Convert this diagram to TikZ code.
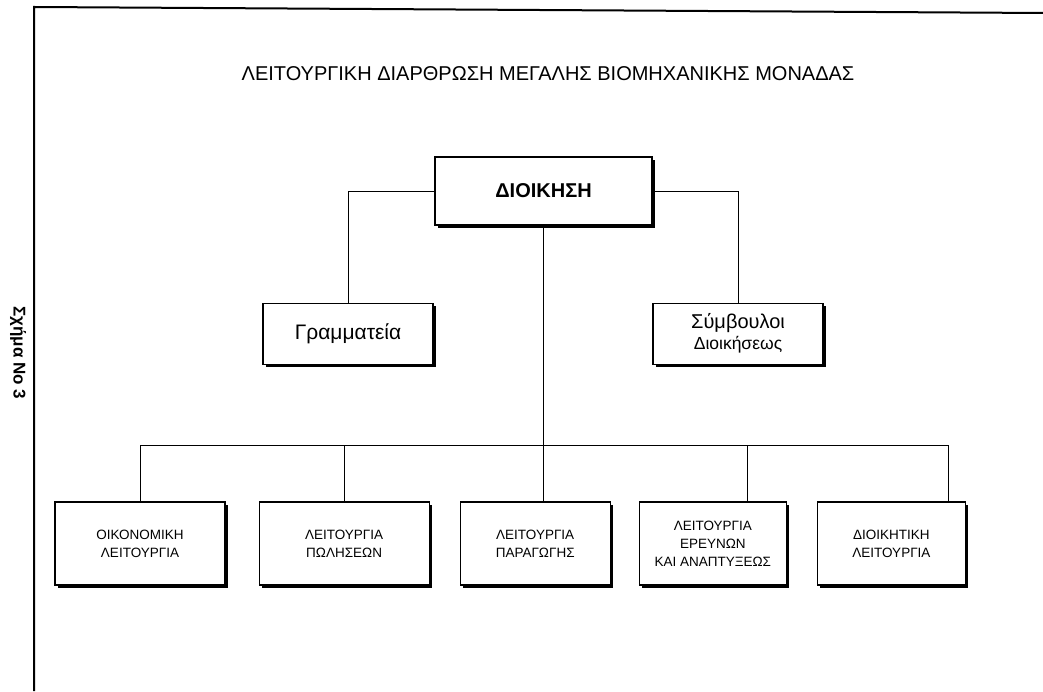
\documentclass[tikz,border=0pt]{standalone}
\usepackage{fontspec}
\setmainfont{Liberation Sans}
\usetikzlibrary{positioning,shadows}

\begin{document}
\begin{tikzpicture}[x=1pt, y=1pt,
  unit/.style={draw, line width=1.1pt, fill=white, align=center, inner sep=0pt,
    drop shadow={shadow xshift=3pt, shadow yshift=-3pt, fill=black, opacity=1}},
  head/.style={unit, minimum width=217pt, minimum height=68pt, font=\fontsize{20}{24}\selectfont\bfseries},
  staff/.style={unit, minimum width=170pt, minimum height=61pt},
  dept/.style={unit, minimum height=83pt, font=\fontsize{13.5}{18}\selectfont},
  link/.style={line width=0.9pt}
]
\useasboundingbox (0,0) rectangle (1043,691);
% frame of the page
\draw[line width=2pt] (34,0) -- (34,684) -- (1043,678);
\node[rotate=-90, font=\fontsize{17}{20}\selectfont\bfseries] (figno) at (18,338) {Σχήμα Νο 3};
\node[font=\fontsize{20}{24}\selectfont] (title) at (548,617) {ΛΕΙΤΟΥΡΓΙΚΗ ΔΙΑΡΘΡΩΣΗ ΜΕΓΑΛΗΣ ΒΙΟΜΗΧΑΝΙΚΗΣ ΜΟΝΑΔΑΣ};
\node[head] (dioikisi) at (543.5,500) {ΔΙΟΙΚΗΣΗ};
\node[staff, below=77pt of dioikisi, xshift=-195.5pt, font=\fontsize{21}{24}\selectfont] (grammateia) {Γραμματεία};
\node[staff, below=77pt of dioikisi, xshift=194.5pt] (symvouloi) {{\fontsize{20}{22}\selectfont Σύμβουλοι}\\[3pt]{\fontsize{17.5}{20}\selectfont Διοικήσεως}};
\node[dept, minimum width=170pt] (oikonomiki) at (140,147.5) {ΟΙΚΟΝΟΜΙΚΗ\\ΛΕΙΤΟΥΡΓΙΑ};
\node[dept, minimum width=170pt, right=33pt of oikonomiki] (poliseon) {ΛΕΙΤΟΥΡΓΙΑ\\ΠΩΛΗΣΕΩΝ};
\node[dept, minimum width=150pt, right=30pt of poliseon] (paragogi) {ΛΕΙΤΟΥΡΓΙΑ\\ΠΑΡΑΓΩΓΗΣ};
\node[dept, minimum width=147pt, right=28pt of paragogi] (erevna) {ΛΕΙΤΟΥΡΓΙΑ\\ΕΡΕΥΝΩΝ\\ΚΑΙ ΑΝΑΠΤΥΞΕΩΣ};
\node[dept, minimum width=148pt, right=30pt of erevna] (dioikitiki) {ΔΙΟΙΚΗΤΙΚΗ\\ΛΕΙΤΟΥΡΓΙΑ};
\coordinate (bus) at (0,246);
% connectors
\draw[link] (dioikisi.west) -| (grammateia.north);
\draw[link] (dioikisi.east) -| (symvouloi.north);
\draw[link] (dioikisi.south) -- (dioikisi.south |- paragogi.north);
\draw[link] (oikonomiki.north) |- ([xshift=57pt]dioikitiki.north |- bus) -- ([xshift=57pt]dioikitiki.north);
\draw[link] (poliseon.north) -- (poliseon.north |- bus);
\draw[link] ([xshift=35pt]erevna.north) -- ([xshift=35pt]erevna.north |- bus);
\end{tikzpicture}
\end{document}
